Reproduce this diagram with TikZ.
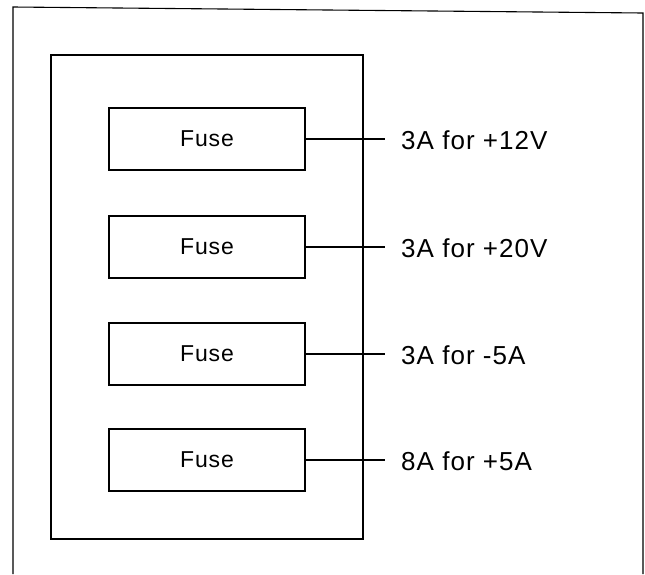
\documentclass[tikz,border=0pt]{standalone}
\usepackage{fontspec}
\setmainfont{Liberation Sans}
\newfontfamily\spacedsans[LetterSpace=4]{Liberation Sans}
\begin{document}
\begin{tikzpicture}[x=1pt,y=-1pt,
  frameline/.style={line width=1.1pt,black},
  fusebox/.style={draw,line width=1.1pt,minimum width=196pt,minimum height=62pt,inner sep=0pt,
    font=\spacedsans\fontsize{23}{26}\selectfont},
  ratelabel/.style={anchor=west,inner sep=0pt,font=\spacedsans\fontsize{26}{30}\selectfont}]
\useasboundingbox (0,0) rectangle (645,574);
% outer frame (open at the bottom)
\draw[frameline] (13,574) -- (13,7) -- (643,13) -- (643,574);
% inner panel
\draw[frameline] (51,55) rectangle (363,539);
% fuses
\node[fusebox] (f1) at (207,139) {Fuse};
\node[fusebox] (f2) at (207,247) {Fuse};
\node[fusebox] (f3) at (207,354) {Fuse};
\node[fusebox] (f4) at (207,460) {Fuse};
\coordinate (e1) at (385,139);
\coordinate (e2) at (385,247);
\coordinate (e3) at (385,354);
\coordinate (e4) at (385,460);
\draw[frameline] (f1.east) -- (e1);
\draw[frameline] (f2.east) -- (e2);
\draw[frameline] (f3.east) -- (e3);
\draw[frameline] (f4.east) -- (e4);
\node[ratelabel] (l1) at (401,140) {3A for +12V};
\node[ratelabel] (l2) at (401,248) {3A for +20V};
\node[ratelabel] (l3) at (401,355) {3A for -5A};
\node[ratelabel] (l4) at (401,461) {8A for +5A};
\end{tikzpicture}
\end{document}
